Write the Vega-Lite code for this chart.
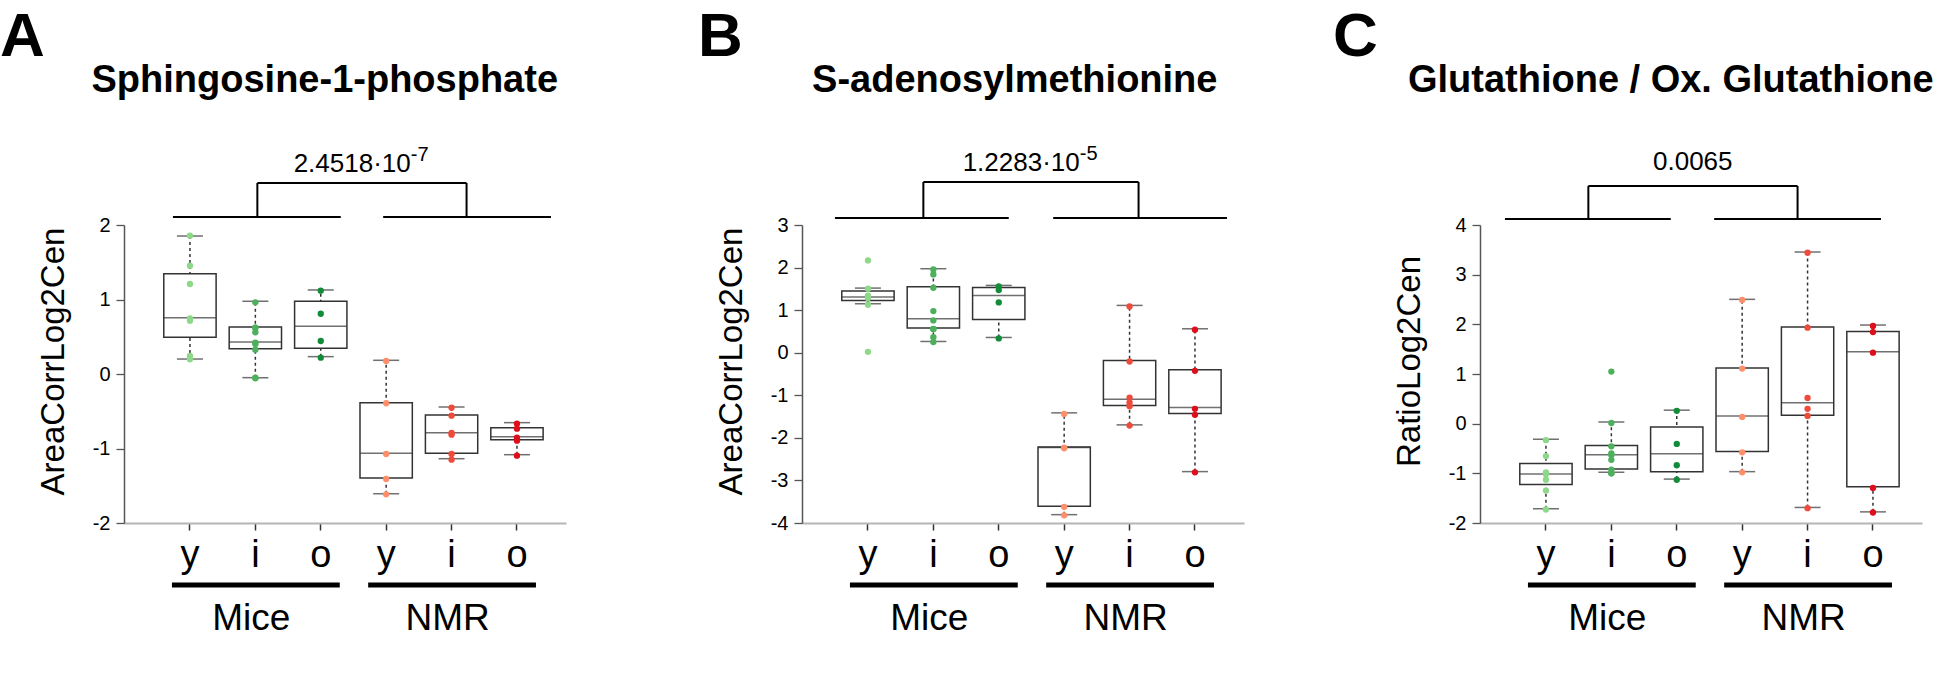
{
  "$schema": "https://vega.github.io/schema/vega-lite/v6.json",
  "padding": {"left": 0, "top": 5, "right": 0, "bottom": 0},
  "background": "white",
  "spacing": 236,
  "bounds": "flush",
  "config": {
    "font": "Liberation Sans",
    "view": {"stroke": null},
    "axis": {"grid": false, "labelColor": "black", "titleColor": "black", "labelFont": "Liberation Sans", "titleFont": "Liberation Sans"},
    "axisX": {"labelFontSize": 38, "labelPadding": 6, "tickSize": 7, "tickColor": "#333", "tickWidth": 1.5, "domainColor": "#b5b5b5", "domainWidth": 2, "labelAngle": 0},
    "axisY": {"labelFontSize": 20, "labelPadding": 6, "tickSize": 8, "tickColor": "#555", "tickWidth": 1.3, "domainColor": "#555", "domainWidth": 1.5, "titleFontSize": 33, "titleFontWeight": "normal", "titlePadding": 22, "titleY": 136},
    "title": {"fontSize": 62, "fontWeight": "bold", "anchor": "start", "frame": "group", "color": "black", "offset": -7, "font": "Liberation Sans"},
    "text": {"font": "Liberation Sans", "color": "black"}
  },
  "datasets": {
    "points": [
      {"p": "A", "g": "Mice-y", "v": 1.857}, {"p": "A", "g": "Mice-y", "v": 1.454}, {"p": "A", "g": "Mice-y", "v": 1.208}, {"p": "A", "g": "Mice-y", "v": 0.747}, {"p": "A", "g": "Mice-y", "v": 0.715}, {"p": "A", "g": "Mice-y", "v": 0.242}, {"p": "A", "g": "Mice-y", "v": 0.197},
      {"p": "A", "g": "Mice-i", "v": 0.962}, {"p": "A", "g": "Mice-i", "v": 0.622}, {"p": "A", "g": "Mice-i", "v": 0.622}, {"p": "A", "g": "Mice-i", "v": 0.56}, {"p": "A", "g": "Mice-i", "v": 0.42}, {"p": "A", "g": "Mice-i", "v": 0.403}, {"p": "A", "g": "Mice-i", "v": 0.327}, {"p": "A", "g": "Mice-i", "v": -0.049}, {"p": "A", "g": "Mice-i", "v": -0.058},
      {"p": "A", "g": "Mice-o", "v": 1.118}, {"p": "A", "g": "Mice-o", "v": 0.809}, {"p": "A", "g": "Mice-o", "v": 0.443}, {"p": "A", "g": "Mice-o", "v": 0.219},
      {"p": "A", "g": "NMR-y", "v": 0.174}, {"p": "A", "g": "NMR-y", "v": -0.393}, {"p": "A", "g": "NMR-y", "v": -1.074}, {"p": "A", "g": "NMR-y", "v": -1.409}, {"p": "A", "g": "NMR-y", "v": -1.615},
      {"p": "A", "g": "NMR-i", "v": -0.452}, {"p": "A", "g": "NMR-i", "v": -0.559}, {"p": "A", "g": "NMR-i", "v": -0.792}, {"p": "A", "g": "NMR-i", "v": -0.814}, {"p": "A", "g": "NMR-i", "v": -1.074}, {"p": "A", "g": "NMR-i", "v": -1.15},
      {"p": "A", "g": "NMR-o", "v": -0.667}, {"p": "A", "g": "NMR-o", "v": -0.734}, {"p": "A", "g": "NMR-o", "v": -0.855}, {"p": "A", "g": "NMR-o", "v": -0.895}, {"p": "A", "g": "NMR-o", "v": -1.096},
      {"p": "B", "g": "Mice-y", "v": 2.169}, {"p": "B", "g": "Mice-y", "v": 1.503}, {"p": "B", "g": "Mice-y", "v": 1.338}, {"p": "B", "g": "Mice-y", "v": 1.283}, {"p": "B", "g": "Mice-y", "v": 1.283}, {"p": "B", "g": "Mice-y", "v": 1.127}, {"p": "B", "g": "Mice-y", "v": 0.021},
      {"p": "B", "g": "Mice-i", "v": 1.957}, {"p": "B", "g": "Mice-i", "v": 1.84}, {"p": "B", "g": "Mice-i", "v": 1.526}, {"p": "B", "g": "Mice-i", "v": 0.978}, {"p": "B", "g": "Mice-i", "v": 0.758}, {"p": "B", "g": "Mice-i", "v": 0.562}, {"p": "B", "g": "Mice-i", "v": 0.554}, {"p": "B", "g": "Mice-i", "v": 0.366}, {"p": "B", "g": "Mice-i", "v": 0.249},
      {"p": "B", "g": "Mice-o", "v": 1.558}, {"p": "B", "g": "Mice-o", "v": 1.471}, {"p": "B", "g": "Mice-o", "v": 1.181}, {"p": "B", "g": "Mice-o", "v": 0.335},
      {"p": "B", "g": "NMR-y", "v": -1.437}, {"p": "B", "g": "NMR-y", "v": -2.228}, {"p": "B", "g": "NMR-y", "v": -2.244}, {"p": "B", "g": "NMR-y", "v": -3.624}, {"p": "B", "g": "NMR-y", "v": -3.82},
      {"p": "B", "g": "NMR-i", "v": 1.087}, {"p": "B", "g": "NMR-i", "v": -0.206}, {"p": "B", "g": "NMR-i", "v": -1.053}, {"p": "B", "g": "NMR-i", "v": -1.17}, {"p": "B", "g": "NMR-i", "v": -1.256}, {"p": "B", "g": "NMR-i", "v": -1.711},
      {"p": "B", "g": "NMR-o", "v": 0.539}, {"p": "B", "g": "NMR-o", "v": -0.426}, {"p": "B", "g": "NMR-o", "v": -1.319}, {"p": "B", "g": "NMR-o", "v": -1.46}, {"p": "B", "g": "NMR-o", "v": -2.809},
      {"p": "C", "g": "Mice-y", "v": -0.333}, {"p": "C", "g": "Mice-y", "v": -0.653}, {"p": "C", "g": "Mice-y", "v": -0.98}, {"p": "C", "g": "Mice-y", "v": -1.02}, {"p": "C", "g": "Mice-y", "v": -1.129}, {"p": "C", "g": "Mice-y", "v": -1.347}, {"p": "C", "g": "Mice-y", "v": -1.728},
      {"p": "C", "g": "Mice-i", "v": 1.048}, {"p": "C", "g": "Mice-i", "v": 0.014}, {"p": "C", "g": "Mice-i", "v": -0.456}, {"p": "C", "g": "Mice-i", "v": -0.599}, {"p": "C", "g": "Mice-i", "v": -0.633}, {"p": "C", "g": "Mice-i", "v": -0.728}, {"p": "C", "g": "Mice-i", "v": -0.925}, {"p": "C", "g": "Mice-i", "v": -1.0}, {"p": "C", "g": "Mice-i", "v": -1.0},
      {"p": "C", "g": "Mice-o", "v": 0.259}, {"p": "C", "g": "Mice-o", "v": -0.408}, {"p": "C", "g": "Mice-o", "v": -0.837}, {"p": "C", "g": "Mice-o", "v": -1.129},
      {"p": "C", "g": "NMR-y", "v": 2.49}, {"p": "C", "g": "NMR-y", "v": 1.109}, {"p": "C", "g": "NMR-y", "v": 0.136}, {"p": "C", "g": "NMR-y", "v": -0.578}, {"p": "C", "g": "NMR-y", "v": -0.98},
      {"p": "C", "g": "NMR-i", "v": 3.442}, {"p": "C", "g": "NMR-i", "v": 1.932}, {"p": "C", "g": "NMR-i", "v": 0.517}, {"p": "C", "g": "NMR-i", "v": 0.299}, {"p": "C", "g": "NMR-i", "v": 0.156}, {"p": "C", "g": "NMR-i", "v": -1.701},
      {"p": "C", "g": "NMR-o", "v": 1.966}, {"p": "C", "g": "NMR-o", "v": 1.844}, {"p": "C", "g": "NMR-o", "v": 1.429}, {"p": "C", "g": "NMR-o", "v": -1.293}, {"p": "C", "g": "NMR-o", "v": -1.789}
    ],
    "boxes": [
      {"p": "A", "g": "Mice-y", "lo": 0.201, "q1": 0.493, "med": 0.756, "q3": 1.347, "hi": 1.852},
      {"p": "A", "g": "Mice-i", "lo": -0.049, "q1": 0.34, "med": 0.43, "q3": 0.631, "hi": 0.976},
      {"p": "A", "g": "Mice-o", "lo": 0.233, "q1": 0.345, "med": 0.64, "q3": 0.976, "hi": 1.128},
      {"p": "A", "g": "NMR-y", "lo": -1.607, "q1": -1.396, "med": -1.065, "q3": -0.385, "hi": 0.184},
      {"p": "A", "g": "NMR-i", "lo": -1.137, "q1": -1.065, "med": -0.788, "q3": -0.55, "hi": -0.443},
      {"p": "A", "g": "NMR-o", "lo": -1.083, "q1": -0.881, "med": -0.841, "q3": -0.72, "hi": -0.653},
      {"p": "B", "g": "Mice-y", "lo": 1.15, "q1": 1.228, "med": 1.307, "q3": 1.448, "hi": 1.518},
      {"p": "B", "g": "Mice-i", "lo": 0.264, "q1": 0.578, "med": 0.797, "q3": 1.55, "hi": 1.973},
      {"p": "B", "g": "Mice-o", "lo": 0.358, "q1": 0.782, "med": 1.346, "q3": 1.534, "hi": 1.581},
      {"p": "B", "g": "NMR-y", "lo": -3.804, "q1": -3.608, "med": -2.228, "q3": -2.213, "hi": -1.413},
      {"p": "B", "g": "NMR-i", "lo": -1.695, "q1": -1.241, "med": -1.092, "q3": -0.183, "hi": 1.111},
      {"p": "B", "g": "NMR-o", "lo": -2.793, "q1": -1.429, "med": -1.288, "q3": -0.402, "hi": 0.562},
      {"p": "C", "g": "Mice-y", "lo": -1.714, "q1": -1.224, "med": -1.014, "q3": -0.803, "hi": -0.313},
      {"p": "C", "g": "Mice-i", "lo": -0.98, "q1": -0.912, "med": -0.626, "q3": -0.442, "hi": 0.034},
      {"p": "C", "g": "Mice-o", "lo": -1.116, "q1": -0.966, "med": -0.605, "q3": -0.068, "hi": 0.272},
      {"p": "C", "g": "NMR-y", "lo": -0.966, "q1": -0.558, "med": 0.156, "q3": 1.122, "hi": 2.503},
      {"p": "C", "g": "NMR-i", "lo": -1.687, "q1": 0.17, "med": 0.422, "q3": 1.946, "hi": 3.456},
      {"p": "C", "g": "NMR-o", "lo": -1.776, "q1": -1.272, "med": 1.449, "q3": 1.857, "hi": 1.986}
    ]
  },
  "hconcat": [
    {
      "width": 442, "height": 298,
      "title": {"text": "A", "dx": -124},
      "layer": [
        {"data": {"name": "boxes"}, "transform": [{"filter": "datum.p == 'A'"}],
         "mark": {"type": "rule", "strokeDash": [3, 3], "color": "#333", "strokeWidth": 1.5},
         "encoding": {
           "x": {"field": "g", "type": "nominal", "sort": null, "scale": {"domain": ["Mice-y", "Mice-i", "Mice-o", "NMR-y", "NMR-i", "NMR-o"], "paddingInner": 0.2, "paddingOuter": 0.479, "align": 0.635}, "axis": {"title": null, "labelExpr": "slice(datum.label, -1)"}},
           "y": {"field": "lo", "type": "quantitative", "scale": {"domain": [-2, 2], "nice": false, "zero": false}, "axis": {"title": "AreaCorrLog2Cen", "values": [-2, -1.5, -1, -0.5, 0, 0.5, 1, 1.5, 2], "labelExpr": "datum.value % 1 == 0 ? '' + datum.value : ''"}},
           "y2": {"field": "hi"}}},
        {"data": {"name": "boxes"}, "transform": [{"filter": "datum.p == 'A'"}],
         "mark": {"type": "bar", "fill": "white", "stroke": "#333", "strokeWidth": 1.5},
         "encoding": {"x": {"field": "g", "type": "nominal"}, "y": {"field": "q1", "type": "quantitative"}, "y2": {"field": "q3"}}},
        {"data": {"name": "boxes"}, "transform": [{"filter": "datum.p == 'A'"}],
         "mark": {"type": "tick", "color": "#333", "thickness": 1.5, "size": 52},
         "encoding": {"x": {"field": "g", "type": "nominal"}, "y": {"field": "med", "type": "quantitative"}}},
        {"data": {"name": "boxes"}, "transform": [{"filter": "datum.p == 'A'"}, {"fold": ["lo", "hi"], "as": ["k", "v"]}],
         "mark": {"type": "tick", "color": "#333", "thickness": 1.5, "size": 26},
         "encoding": {"x": {"field": "g", "type": "nominal"}, "y": {"field": "v", "type": "quantitative"}}},
        {"data": {"name": "points"}, "transform": [{"filter": "datum.p == 'A'"}],
         "mark": {"type": "circle", "size": 40, "opacity": 1},
         "encoding": {"x": {"field": "g", "type": "nominal"}, "y": {"field": "v", "type": "quantitative"},
           "color": {"field": "g", "type": "nominal", "legend": null, "scale": {"domain": ["Mice-y", "Mice-i", "Mice-o", "NMR-y", "NMR-i", "NMR-o"], "range": ["#8ED88A", "#4CB05C", "#138C3A", "#FF8F6B", "#F04A3A", "#DD0F1A"]}}}},
        {"data": {"values": [{"t": "Sphingosine-1-phosphate"}]},
         "mark": {"type": "text", "fontSize": 38, "fontWeight": "bold", "align": "center", "baseline": "alphabetic", "dx": 4},
         "encoding": {"x": {"datum": "Mice-o"}, "y": {"datum": 3.785}, "text": {"field": "t"}}},
        {"data": {"values": [{}]}, "mark": {"type": "rule", "color": "black", "strokeWidth": 2, "xOffset": -17, "x2Offset": 20},
         "encoding": {"x": {"datum": "Mice-y"}, "x2": {"datum": "Mice-o"}, "y": {"datum": 2.107}}},
        {"data": {"values": [{}]}, "mark": {"type": "rule", "color": "black", "strokeWidth": 2, "xOffset": -3, "x2Offset": 34},
         "encoding": {"x": {"datum": "NMR-y"}, "x2": {"datum": "NMR-o"}, "y": {"datum": 2.107}}},
        {"data": {"values": [{}]}, "mark": {"type": "rule", "color": "black", "strokeWidth": 2, "xOffset": 2},
         "encoding": {"x": {"datum": "Mice-i"}, "y": {"datum": 2.107}, "y2": {"datum": 2.564}}},
        {"data": {"values": [{}]}, "mark": {"type": "rule", "color": "black", "strokeWidth": 2, "xOffset": 15},
         "encoding": {"x": {"datum": "NMR-i"}, "y": {"datum": 2.107}, "y2": {"datum": 2.564}}},
        {"data": {"values": [{}]}, "mark": {"type": "rule", "color": "black", "strokeWidth": 2, "xOffset": 2, "x2Offset": 15},
         "encoding": {"x": {"datum": "Mice-i"}, "x2": {"datum": "NMR-i"}, "y": {"datum": 2.564}}},
        {"data": {"values": [{"t": "2.4518·10"}]},
         "mark": {"type": "text", "fontSize": 26, "align": "right", "baseline": "alphabetic", "dx": 90},
         "encoding": {"x": {"datum": "Mice-o"}, "y": {"datum": 2.711}, "text": {"field": "t"}}},
        {"data": {"values": [{"t": "-7"}]},
         "mark": {"type": "text", "fontSize": 20, "align": "left", "baseline": "alphabetic", "dx": 90, "dy": -11},
         "encoding": {"x": {"datum": "Mice-o"}, "y": {"datum": 2.711}, "text": {"field": "t"}}},
        {"data": {"values": [{"from": "Mice-y", "to": "Mice-o"}, {"from": "NMR-y", "to": "NMR-o"}]},
         "mark": {"type": "rule", "color": "black", "strokeWidth": 5, "strokeCap": "butt", "xOffset": -18, "x2Offset": 19},
         "encoding": {"x": {"field": "from", "type": "nominal"}, "x2": {"field": "to"}, "y": {"datum": -2.832}}},
        {"data": {"values": [{"label": "Mice", "at": "Mice-i"}, {"label": "NMR", "at": "NMR-i"}]},
         "mark": {"type": "text", "fontSize": 37, "align": "center", "baseline": "alphabetic", "dx": -4},
         "encoding": {"x": {"field": "at", "type": "nominal"}, "y": {"datum": -3.436}, "text": {"field": "label"}}}
      ]
    },
    {
      "width": 442, "height": 298,
      "title": {"text": "B", "dx": -104},
      "layer": [
        {"data": {"name": "boxes"}, "transform": [{"filter": "datum.p == 'B'"}],
         "mark": {"type": "rule", "strokeDash": [3, 3], "color": "#333", "strokeWidth": 1.5},
         "encoding": {
           "x": {"field": "g", "type": "nominal", "sort": null, "scale": {"domain": ["Mice-y", "Mice-i", "Mice-o", "NMR-y", "NMR-i", "NMR-o"], "paddingInner": 0.2, "paddingOuter": 0.479, "align": 0.635}, "axis": {"title": null, "labelExpr": "slice(datum.label, -1)"}},
           "y": {"field": "lo", "type": "quantitative", "scale": {"domain": [-4, 3], "nice": false, "zero": false}, "axis": {"title": "AreaCorrLog2Cen", "values": [-4, -3, -2, -1, 0, 1, 2, 3], "labelExpr": "'' + datum.value"}},
           "y2": {"field": "hi"}}},
        {"data": {"name": "boxes"}, "transform": [{"filter": "datum.p == 'B'"}],
         "mark": {"type": "bar", "fill": "white", "stroke": "#333", "strokeWidth": 1.5},
         "encoding": {"x": {"field": "g", "type": "nominal"}, "y": {"field": "q1", "type": "quantitative"}, "y2": {"field": "q3"}}},
        {"data": {"name": "boxes"}, "transform": [{"filter": "datum.p == 'B'"}],
         "mark": {"type": "tick", "color": "#333", "thickness": 1.5, "size": 52},
         "encoding": {"x": {"field": "g", "type": "nominal"}, "y": {"field": "med", "type": "quantitative"}}},
        {"data": {"name": "boxes"}, "transform": [{"filter": "datum.p == 'B'"}, {"fold": ["lo", "hi"], "as": ["k", "v"]}],
         "mark": {"type": "tick", "color": "#333", "thickness": 1.5, "size": 26},
         "encoding": {"x": {"field": "g", "type": "nominal"}, "y": {"field": "v", "type": "quantitative"}}},
        {"data": {"name": "points"}, "transform": [{"filter": "datum.p == 'B'"}],
         "mark": {"type": "circle", "size": 40, "opacity": 1},
         "encoding": {"x": {"field": "g", "type": "nominal"}, "y": {"field": "v", "type": "quantitative"},
           "color": {"field": "g", "type": "nominal", "legend": null, "scale": {"domain": ["Mice-y", "Mice-i", "Mice-o", "NMR-y", "NMR-i", "NMR-o"], "range": ["#8ED88A", "#4CB05C", "#138C3A", "#FF8F6B", "#F04A3A", "#DD0F1A"]}}}},
        {"data": {"values": [{"t": "S-adenosylmethionine"}]},
         "mark": {"type": "text", "fontSize": 38, "fontWeight": "bold", "align": "center", "baseline": "alphabetic", "dx": 16},
         "encoding": {"x": {"datum": "Mice-o"}, "y": {"datum": 6.124}, "text": {"field": "t"}}},
        {"data": {"values": [{}]}, "mark": {"type": "rule", "color": "black", "strokeWidth": 2, "xOffset": -33, "x2Offset": 10},
         "encoding": {"x": {"datum": "Mice-y"}, "x2": {"datum": "Mice-o"}, "y": {"datum": 3.164}}},
        {"data": {"values": [{}]}, "mark": {"type": "rule", "color": "black", "strokeWidth": 2, "xOffset": -11, "x2Offset": 32},
         "encoding": {"x": {"datum": "NMR-y"}, "x2": {"datum": "NMR-o"}, "y": {"datum": 3.164}}},
        {"data": {"values": [{}]}, "mark": {"type": "rule", "color": "black", "strokeWidth": 2, "xOffset": -10},
         "encoding": {"x": {"datum": "Mice-i"}, "y": {"datum": 3.164}, "y2": {"datum": 4.01}}},
        {"data": {"values": [{}]}, "mark": {"type": "rule", "color": "black", "strokeWidth": 2, "xOffset": 9},
         "encoding": {"x": {"datum": "NMR-i"}, "y": {"datum": 3.164}, "y2": {"datum": 4.01}}},
        {"data": {"values": [{}]}, "mark": {"type": "rule", "color": "black", "strokeWidth": 2, "xOffset": -10, "x2Offset": 9},
         "encoding": {"x": {"datum": "Mice-i"}, "x2": {"datum": "NMR-i"}, "y": {"datum": 4.01}}},
        {"data": {"values": [{"t": "1.2283·10"}]},
         "mark": {"type": "text", "fontSize": 26, "align": "right", "baseline": "alphabetic", "dx": 81},
         "encoding": {"x": {"datum": "Mice-o"}, "y": {"datum": 4.268}, "text": {"field": "t"}}},
        {"data": {"values": [{"t": "-5"}]},
         "mark": {"type": "text", "fontSize": 20, "align": "left", "baseline": "alphabetic", "dx": 81, "dy": -11},
         "encoding": {"x": {"datum": "Mice-o"}, "y": {"datum": 4.268}, "text": {"field": "t"}}},
        {"data": {"values": [{"from": "Mice-y", "to": "Mice-o"}, {"from": "NMR-y", "to": "NMR-o"}]},
         "mark": {"type": "rule", "color": "black", "strokeWidth": 5, "strokeCap": "butt", "xOffset": -18, "x2Offset": 19},
         "encoding": {"x": {"field": "from", "type": "nominal"}, "x2": {"field": "to"}, "y": {"datum": -5.457}}},
        {"data": {"values": [{"label": "Mice", "at": "Mice-i"}, {"label": "NMR", "at": "NMR-i"}]},
         "mark": {"type": "text", "fontSize": 37, "align": "center", "baseline": "alphabetic", "dx": -4},
         "encoding": {"x": {"field": "at", "type": "nominal"}, "y": {"datum": -6.514}, "text": {"field": "label"}}}
      ]
    },
    {
      "width": 442, "height": 298,
      "title": {"text": "C", "dx": -147},
      "layer": [
        {"data": {"name": "boxes"}, "transform": [{"filter": "datum.p == 'C'"}],
         "mark": {"type": "rule", "strokeDash": [3, 3], "color": "#333", "strokeWidth": 1.5},
         "encoding": {
           "x": {"field": "g", "type": "nominal", "sort": null, "scale": {"domain": ["Mice-y", "Mice-i", "Mice-o", "NMR-y", "NMR-i", "NMR-o"], "paddingInner": 0.2, "paddingOuter": 0.479, "align": 0.635}, "axis": {"title": null, "labelExpr": "slice(datum.label, -1)"}},
           "y": {"field": "lo", "type": "quantitative", "scale": {"domain": [-2, 4], "nice": false, "zero": false}, "axis": {"title": "RatioLog2Cen", "values": [-2, -1, 0, 1, 2, 3, 4], "labelExpr": "'' + datum.value"}},
           "y2": {"field": "hi"}}},
        {"data": {"name": "boxes"}, "transform": [{"filter": "datum.p == 'C'"}],
         "mark": {"type": "bar", "fill": "white", "stroke": "#333", "strokeWidth": 1.5},
         "encoding": {"x": {"field": "g", "type": "nominal"}, "y": {"field": "q1", "type": "quantitative"}, "y2": {"field": "q3"}}},
        {"data": {"name": "boxes"}, "transform": [{"filter": "datum.p == 'C'"}],
         "mark": {"type": "tick", "color": "#333", "thickness": 1.5, "size": 52},
         "encoding": {"x": {"field": "g", "type": "nominal"}, "y": {"field": "med", "type": "quantitative"}}},
        {"data": {"name": "boxes"}, "transform": [{"filter": "datum.p == 'C'"}, {"fold": ["lo", "hi"], "as": ["k", "v"]}],
         "mark": {"type": "tick", "color": "#333", "thickness": 1.5, "size": 26},
         "encoding": {"x": {"field": "g", "type": "nominal"}, "y": {"field": "v", "type": "quantitative"}}},
        {"data": {"name": "points"}, "transform": [{"filter": "datum.p == 'C'"}],
         "mark": {"type": "circle", "size": 40, "opacity": 1},
         "encoding": {"x": {"field": "g", "type": "nominal"}, "y": {"field": "v", "type": "quantitative"},
           "color": {"field": "g", "type": "nominal", "legend": null, "scale": {"domain": ["Mice-y", "Mice-i", "Mice-o", "NMR-y", "NMR-i", "NMR-o"], "range": ["#8ED88A", "#4CB05C", "#138C3A", "#FF8F6B", "#F04A3A", "#DD0F1A"]}}}},
        {"data": {"values": [{"t": "Glutathione / Ox. Glutathione"}]},
         "mark": {"type": "text", "fontSize": 38, "fontWeight": "bold", "align": "center", "baseline": "alphabetic", "dx": -6},
         "encoding": {"x": {"datum": "Mice-o"}, "y": {"datum": 6.678}, "text": {"field": "t"}}},
        {"data": {"values": [{}]}, "mark": {"type": "rule", "color": "black", "strokeWidth": 2, "xOffset": -41, "x2Offset": -6},
         "encoding": {"x": {"datum": "Mice-y"}, "x2": {"datum": "Mice-o"}, "y": {"datum": 4.121}}},
        {"data": {"values": [{}]}, "mark": {"type": "rule", "color": "black", "strokeWidth": 2, "xOffset": -28, "x2Offset": 8},
         "encoding": {"x": {"datum": "NMR-y"}, "x2": {"datum": "NMR-o"}, "y": {"datum": 4.121}}},
        {"data": {"values": [{}]}, "mark": {"type": "rule", "color": "black", "strokeWidth": 2, "xOffset": -23},
         "encoding": {"x": {"datum": "Mice-i"}, "y": {"datum": 4.121}, "y2": {"datum": 4.785}}},
        {"data": {"values": [{}]}, "mark": {"type": "rule", "color": "black", "strokeWidth": 2, "xOffset": -10},
         "encoding": {"x": {"datum": "NMR-i"}, "y": {"datum": 4.121}, "y2": {"datum": 4.785}}},
        {"data": {"values": [{}]}, "mark": {"type": "rule", "color": "black", "strokeWidth": 2, "xOffset": -23, "x2Offset": -10},
         "encoding": {"x": {"datum": "Mice-i"}, "x2": {"datum": "NMR-i"}, "y": {"datum": 4.785}}},
        {"data": {"values": [{"t": "0.0065"}]},
         "mark": {"type": "text", "fontSize": 26, "align": "center", "baseline": "alphabetic", "dx": 16},
         "encoding": {"x": {"datum": "Mice-o"}, "y": {"datum": 5.107}, "text": {"field": "t"}}},
        {"data": {"values": [{"from": "Mice-y", "to": "Mice-o"}, {"from": "NMR-y", "to": "NMR-o"}]},
         "mark": {"type": "rule", "color": "black", "strokeWidth": 5, "strokeCap": "butt", "xOffset": -18, "x2Offset": 19},
         "encoding": {"x": {"field": "from", "type": "nominal"}, "x2": {"field": "to"}, "y": {"datum": -3.248}}},
        {"data": {"values": [{"label": "Mice", "at": "Mice-i"}, {"label": "NMR", "at": "NMR-i"}]},
         "mark": {"type": "text", "fontSize": 37, "align": "center", "baseline": "alphabetic", "dx": -4},
         "encoding": {"x": {"field": "at", "type": "nominal"}, "y": {"datum": -4.154}, "text": {"field": "label"}}}
      ]
    }
  ]
}
